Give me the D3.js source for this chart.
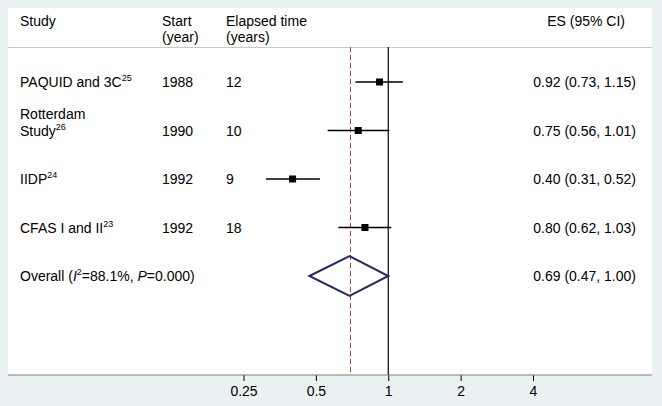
<!DOCTYPE html>
<html><head><meta charset="utf-8">
<script src="https://cdn.jsdelivr.net/npm/d3@7"></script>
<style>body{margin:0;background:#eaf1f3;} svg{display:block;font-family:"Liberation Sans",Arial,sans-serif;}</style>
</head><body><svg id="c" width="662" height="406"></svg>
<script>
const studies = ["PAQUID and 3C", "Rotterdam Study", "IIDP", "CFAS I and II"];
const refs = ["25", "26", "24", "23"];
const startYears = ["1988", "1990", "1992", "1992"];
const elapsed = ["12", "10", "9", "18"];
const es = [0.92, 0.75, 0.40, 0.80];
const lo = [0.73, 0.56, 0.31, 0.62];
const hi = [1.15, 1.01, 0.52, 1.03];
const overall = {es: 0.69, lo: 0.47, hi: 1.00, i2: "88.1%", p: "0.000"};
const ticks = [0.25, 0.5, 1, 2, 4];
const tickLabels = ["0.25", "0.5", "1", "2", "4"];

const svg = d3.select("#c");
const W = 662, H = 406;
svg.append("rect").attr("width", W).attr("height", H).attr("fill", "#eaf1f3");
svg.append("rect").attr("x", 8).attr("y", 8).attr("width", 644).attr("height", 367).attr("fill", "#fff");

const x = d3.scaleLog().base(2).domain([0.25, 4]).range([243.5, 533]);
const rows = [...studies.map((s, i) => i), "overall"];
const y = d3.scalePoint().domain(rows).range([82, 276]);
const fs = 14;
const sfs = 9;
const fmt = d3.format(".2f");

// header
const hdr = svg.append("g").attr("font-size", fs).attr("fill", "#000");
hdr.append("text").attr("x", 20).attr("y", 26).text("Study");
hdr.append("text").attr("x", 162).attr("y", 26).text("Start");
hdr.append("text").attr("x", 162).attr("y", 42).text("(year)");
hdr.append("text").attr("x", 226).attr("y", 26).text("Elapsed time");
hdr.append("text").attr("x", 226).attr("y", 42).text("(years)");
hdr.append("text").attr("x", 625).attr("y", 26).attr("text-anchor", "end").text("ES (95% CI)");
svg.append("line").attr("x1", 8).attr("x2", 652).attr("y1", 47.5).attr("y2", 47.5).attr("stroke", "#c8c8c8").attr("stroke-width", 1);

// reference lines
svg.append("line").attr("x1", x(1)).attr("x2", x(1)).attr("y1", 47).attr("y2", 375).attr("stroke", "#000").attr("stroke-width", 1.2);
const xr = Math.round(x(overall.es)) + 0.5;
svg.append("line").attr("x1", xr).attr("x2", xr).attr("y1", 47).attr("y2", 375)
  .attr("stroke", "#a8444c").attr("stroke-width", 1).attr("stroke-dasharray", "5,3");

// study rows
studies.forEach((s, i) => {
  const yy = y(i);
  const g = svg.append("g").attr("font-size", fs);
  if (s === "Rotterdam Study") {
    g.append("text").attr("x", 20).attr("y", yy - 12).text("Rotterdam");
    const t = g.append("text").attr("x", 20).attr("y", yy + 5);
    t.append("tspan").text("Study");
    t.append("tspan").attr("font-size", sfs).attr("dy", -6).text(refs[i]);
  } else {
    const t = g.append("text").attr("x", 20).attr("y", yy + 5);
    t.append("tspan").text(s);
    t.append("tspan").attr("font-size", sfs).attr("dy", -6).text(refs[i]);
  }
  g.append("text").attr("x", 162).attr("y", yy + 5).text(startYears[i]);
  g.append("text").attr("x", 226).attr("y", yy + 5).text(elapsed[i]);
  g.append("text").attr("x", 636).attr("y", yy + 5).attr("text-anchor", "end")
    .text(`${fmt(es[i])} (${fmt(lo[i])}, ${fmt(hi[i])})`);
  svg.append("line").attr("x1", x(lo[i])).attr("x2", x(hi[i])).attr("y1", yy).attr("y2", yy)
    .attr("stroke", "#000").attr("stroke-width", 1.3);
  svg.append("rect").attr("x", x(es[i]) - 3.5).attr("y", yy - 3.5).attr("width", 7).attr("height", 7).attr("fill", "#000");
});

// overall
const yo = y("overall");
const og = svg.append("g").attr("font-size", fs);
const ot = og.append("text").attr("x", 20).attr("y", yo + 5);
ot.append("tspan").text("Overall (");
ot.append("tspan").attr("font-style", "italic").text("I");
ot.append("tspan").attr("font-size", sfs).attr("dy", -6).text("2");
ot.append("tspan").attr("dy", 6).text("=" + overall.i2 + ", ");
ot.append("tspan").attr("font-style", "italic").text("P");
ot.append("tspan").text("=" + overall.p + ")");
og.append("text").attr("x", 636).attr("y", yo + 5).attr("text-anchor", "end")
  .text(`${fmt(overall.es)} (${fmt(overall.lo)}, ${fmt(overall.hi)})`);
const dh = 20;
svg.append("path")
  .attr("d", `M${x(overall.lo)},${yo} L${x(overall.es)},${yo - dh} L${x(overall.hi)},${yo} L${x(overall.es)},${yo + dh} Z`)
  .attr("fill", "none").attr("stroke", "#262a66").attr("stroke-width", 2);

// axis
const axis = d3.axisBottom(x).tickValues(ticks).tickFormat((d, i) => tickLabels[i]).tickSize(6).tickSizeOuter(0);
const ag = svg.append("g").attr("transform", "translate(0,375)").call(axis);
ag.select(".domain").remove();
ag.selectAll(".tick line").attr("stroke", "#000");
ag.selectAll(".tick text").attr("font-size", fs).attr("font-family", "Liberation Sans, Arial, sans-serif").attr("fill", "#000").attr("dy", "0.85em");
svg.append("line").attr("x1", 8).attr("x2", 652).attr("y1", 375).attr("y2", 375).attr("stroke", "#7f7f7f").attr("stroke-width", 1.2);
</script></body></html>
